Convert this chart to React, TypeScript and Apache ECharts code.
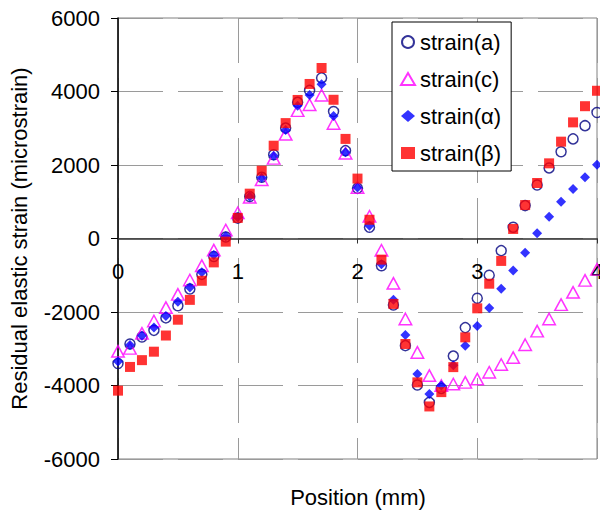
import React, { useEffect, useRef } from 'react';
import * as echarts from 'echarts';

const positions = [
  0.0, 0.1, 0.2, 0.3, 0.4, 0.5, 0.6, 0.7, 0.8, 0.9,
  1.0, 1.1, 1.2, 1.3, 1.4, 1.5, 1.6, 1.7, 1.8, 1.9,
  2.0, 2.1, 2.2, 2.3, 2.4, 2.5, 2.6, 2.7, 2.8, 2.9,
  3.0, 3.1, 3.2, 3.3, 3.4, 3.5, 3.6, 3.7, 3.8, 3.9,
  4.0,
];

const strainA = [
  -3400, -2870, -2680, -2500, -2160, -1830, -1375, -975, -490, 40,
  555, 1140, 1665, 2280, 3005, 3705, 4030, 4370, 3455, 2390,
  1365, 305, -740, -1810, -2915, -3985, -4460, -4080, -3200, -2425,
  -1625, -1000, -330, 305, 895, 1455, 1920, 2360, 2710, 3070,
  3430,
];

const strainC = [
  -3070, -2990, -2580, -2245, -1880, -1520, -1130, -740, -315, 230,
  700, 1120, 1600, 2180, 2835, 3480, 3640, 3900, 3130, 2320,
  1390, 605, -320, -1220, -2190, -3100, -3730, -4000, -3960, -3915,
  -3825, -3640, -3430, -3240, -2890, -2520, -2190, -1800, -1465, -1140,
  -840,
];

const strainAlpha = [
  -3350, -2900, -2645, -2420, -2110, -1720, -1335, -920, -450, 60,
  575, 1140, 1650, 2250, 2950, 3615, 3905, 4195, 3330, 2345,
  1390, 350, -700, -1665, -2625, -3690, -4230, -4000, -3450, -2915,
  -2380, -1890, -1365, -870, -385, 140, 595, 1000, 1345, 1665,
  2010,
];

const strainBeta = [
  -4140, -3495, -3310, -3080, -2640, -2210, -1670, -1150, -650, -85,
  560, 1220, 1845, 2525, 3140, 3770, 4205, 4640, 3775, 2710,
  1630, 510, -575, -1780, -2870, -3915, -4570, -4180, -3500, -2690,
  -1900, -1230, -610, 260, 910, 1510, 2045, 2635, 3160, 3600,
  4020,
];

const seriesNames = ['strain(a)', 'strain(c)', 'strain(\u03b1)', 'strain(\u03b2)'];
const xTicks = { min: 0, max: 4, interval: 1 };
const yTicks = { min: -6000, max: 6000, interval: 2000 };

const FONT = "'Liberation Sans', Arial, sans-serif";

const GRID_TOP = 18;
const GRID_BOTTOM = 53;
const CHART_H = 512;

function pairs(values: number[]) {
  return positions.map((x, i) => [x, values[i]]);
}

export default function App() {
  const ref = useRef<HTMLDivElement>(null);

  useEffect(() => {
    if (!ref.current) return;
    const chart = echarts.init(ref.current, null, { renderer: 'svg' });
    const gridLine = { color: '#9a9a9a', width: 1, type: [45, 15] as number[] };
    // shift the x axis (line, ticks, labels) from the grid bottom up to y = 0
    const gridH = CHART_H - GRID_TOP - GRID_BOTTOM;
    const zeroOffset = -(gridH * (0 - yTicks.min)) / (yTicks.max - yTicks.min);
    chart.setOption({
      animation: false,
      backgroundColor: '#ffffff',
      textStyle: { fontFamily: FONT },
      grid: {
        left: 118,
        right: 3,
        top: GRID_TOP,
        bottom: GRID_BOTTOM,
        show: true,
        borderColor: '#808080',
        borderWidth: 1,
        outerBoundsMode: 'none',
      },
      legend: {
        orient: 'vertical',
        left: 392,
        top: 22,
        padding: [9, 10, 7, 8],
        itemGap: 15,
        itemWidth: 14,
        itemHeight: 12,
        backgroundColor: '#ffffff',
        borderColor: '#000000',
        borderWidth: 1,
        borderRadius: 0,
        textStyle: { fontSize: 22, fontFamily: FONT, color: '#000', lineHeight: 22 },
        data: seriesNames,
      },
      xAxis: {
        type: 'value',
        position: 'bottom',
        offset: zeroOffset,
        min: xTicks.min,
        max: xTicks.max,
        interval: xTicks.interval,
        axisLine: { show: true, onZero: false, lineStyle: { color: '#303030', width: 1.5 } },
        axisTick: { show: true, length: 5, lineStyle: { color: '#303030' } },
        axisLabel: {
          margin: 22,
          fontSize: 22,
          fontFamily: FONT,
          color: '#000',
          formatter: (v: number) => String(v),
        },
        splitLine: { show: true, lineStyle: gridLine },
      },
      yAxis: {
        type: 'value',
        min: yTicks.min,
        max: yTicks.max,
        interval: yTicks.interval,
        name: 'Residual elastic strain (microstrain)',
        nameLocation: 'middle',
        nameGap: 88,
        nameTextStyle: { fontSize: 22, fontFamily: FONT, color: '#000' },
        axisLine: { show: true, onZero: false, lineStyle: { color: '#000', width: 1.5 } },
        axisTick: { show: true, length: 7, lineStyle: { color: '#000' } },
        axisLabel: {
          margin: 18,
          fontSize: 22,
          fontFamily: FONT,
          color: '#000',
          formatter: (v: number) => String(v),
        },
        splitLine: { show: true, lineStyle: gridLine },
      },
      graphic: [
        {
          type: 'text',
          x: 358,
          y: 497,
          style: {
            text: 'Position (mm)',
            fontSize: 22,
            fontFamily: FONT,
            fill: '#000',
            align: 'center',
            verticalAlign: 'middle',
          },
        },
      ],
      series: [
        {
          name: seriesNames[0],
          type: 'scatter',
          symbol: 'circle',
          symbolSize: 10,
          itemStyle: { color: 'rgba(0,0,0,0)', borderColor: '#000080', borderWidth: 1.5 },
          data: pairs(strainA),
        },
        {
          name: seriesNames[1],
          type: 'scatter',
          symbol: 'triangle',
          symbolSize: [12.5, 11.5],
          itemStyle: { color: 'rgba(0,0,0,0)', borderColor: '#ff00ff', borderWidth: 1.5 },
          data: pairs(strainC),
        },
        {
          name: seriesNames[2],
          type: 'scatter',
          symbol: 'diamond',
          symbolSize: 10,
          itemStyle: { color: '#0000ff' },
          data: pairs(strainAlpha),
        },
        {
          name: seriesNames[3],
          type: 'scatter',
          symbol: 'rect',
          symbolSize: 10,
          itemStyle: { color: '#ff0000' },
          data: pairs(strainBeta),
        },
      ],
    });
    return () => chart.dispose();
  }, []);

  return (
    <div
      ref={ref}
      style={{ position: 'absolute', left: 0, top: 0, width: 600, height: 512, background: '#fff' }}
    />
  );
}
